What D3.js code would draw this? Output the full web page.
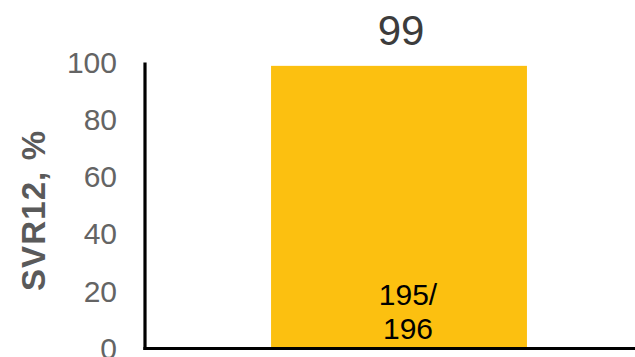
<!DOCTYPE html>
<html>
<head>
<meta charset="utf-8">
<script src="https://cdn.jsdelivr.net/npm/d3@7/dist/d3.min.js"></script>
<style>
  html, body { margin: 0; padding: 0; background: #fff; }
  svg { display: block; font-family: "Liberation Sans", Arial, sans-serif; }
</style>
</head>
<body>
<svg id="chart" width="635" height="357"></svg>
<script>
// SVR12 response: one group, percent with responders / total
const categories = ["All patients"];
const svrPercent = [99];
const responders = [195];
const totals = [196];
const yTicks = [0, 20, 40, 60, 80, 100];
const yTitle = "SVR12, %";

const svg = d3.select("#chart");
const W = 635, H = 357;
const x0 = 145, yBottom = 348.5, yTop = 63;

const y = d3.scaleLinear().domain([0, 100]).range([yBottom, yTop]);
const x = d3.scaleBand().domain(categories).range([x0, 653]).paddingInner(0.33).paddingOuter(0.33);

// bars
svg.selectAll("rect.bar")
  .data(categories)
  .join("rect")
  .attr("class", "bar")
  .attr("x", d => x(d))
  .attr("width", x.bandwidth())
  .attr("y", (d, i) => y(svrPercent[i]))
  .attr("height", (d, i) => y(0) - y(svrPercent[i]))
  .attr("fill", "#FCC010");

// y axis with labels only, plus a heavy axis line
const yAxis = d3.axisLeft(y).tickValues(yTicks).tickSize(0).tickPadding(28).tickFormat(d3.format("d"));
const gy = svg.append("g").attr("transform", `translate(${x0},0)`).call(yAxis);
gy.select(".domain").remove();
gy.selectAll("text")
  .attr("font-size", 30)
  .attr("font-family", "Liberation Sans, Arial, sans-serif")
  .attr("fill", "#646464");

svg.append("line")
  .attr("x1", x0).attr("x2", x0)
  .attr("y1", y(100) - 0.5).attr("y2", yBottom + 1.5)
  .attr("stroke", "#000").attr("stroke-width", 3.2);

svg.append("line")
  .attr("x1", x0 - 1.6).attr("x2", W)
  .attr("y1", yBottom).attr("y2", yBottom)
  .attr("stroke", "#000").attr("stroke-width", 3.2);

// axis title
svg.append("text")
  .attr("transform", `translate(45,211) rotate(-90)`)
  .attr("text-anchor", "middle")
  .attr("font-size", 33)
  .attr("font-weight", "bold")
  .attr("fill", "#5a5a5a")
  .attr("textLength", 160)
  .attr("lengthAdjust", "spacing")
  .text(yTitle);

// value labels above bars
svg.selectAll("text.value")
  .data(categories)
  .join("text")
  .attr("class", "value")
  .attr("x", d => x(d) + x.bandwidth() / 2 + 2)
  .attr("y", 45)
  .attr("text-anchor", "middle")
  .attr("font-size", 42)
  .attr("fill", "#3c3c3c")
  .text((d, i) => svrPercent[i]);

// n/N labels inside bars
const inner = svg.selectAll("text.count")
  .data(categories)
  .join("text")
  .attr("class", "count")
  .attr("text-anchor", "middle")
  .attr("font-size", 30)
  .attr("fill", "#000");
inner.append("tspan")
  .attr("x", d => x(d) + x.bandwidth() / 2 + 9)
  .attr("y", 305)
  .text((d, i) => responders[i] + "/");
inner.append("tspan")
  .attr("x", d => x(d) + x.bandwidth() / 2 + 9)
  .attr("y", 339)
  .text((d, i) => totals[i]);
</script>
</body>
</html>
